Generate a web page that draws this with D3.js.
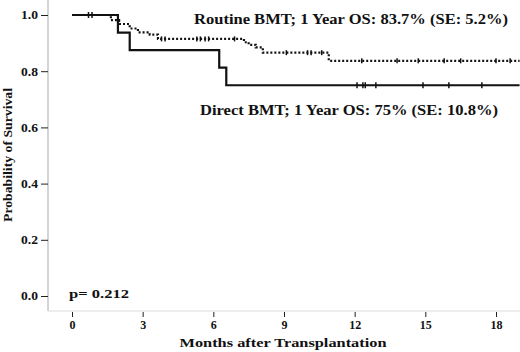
<!DOCTYPE html>
<html>
<head>
<meta charset="utf-8">
<script src="https://cdn.jsdelivr.net/npm/d3@7"></script>
<style>
  body { margin: 0; background: #fff; }
  text { font-family: "Liberation Serif", "Times New Roman", serif; font-weight: bold; fill: #111; }
</style>
</head>
<body>
<div id="km"></div>
<script>
// Chart data
const xTicks = [0, 3, 6, 9, 12, 15, 18];
const yTicks = [0, 0.2, 0.4, 0.6, 0.8, 1.0];

// Direct BMT (solid)
const directTimes = [0, 1.95, 2.45, 6.25, 6.55, 19];
const directSurv = [1, 0.9375, 0.875, 0.8125, 0.75, 0.75];
const directCensor = [0.7, 0.85, 12.1, 12.35, 12.45, 12.9, 14.9, 16.0, 17.4];

// Routine BMT (dotted)
const routineTimes = [0, 1.65, 2.0, 2.45, 2.8, 3.3, 3.65, 7.3, 7.5, 7.8, 8.1, 10.9, 19];
const routineSurv = [1, 0.982, 0.968, 0.952, 0.938, 0.93, 0.915, 0.903, 0.894, 0.885, 0.866, 0.837, 0.837];
const routineCensor = [3.8, 3.95, 5.3, 5.45, 5.65, 5.8, 6.9, 9.1, 10.0, 10.15, 10.6, 12.3, 13.8, 14.7, 15.8, 16.5, 18.0, 18.6];

const labels = {
    routine: "Routine BMT; 1 Year OS: 83.7% (SE: 5.2%)",
    direct: "Direct BMT; 1 Year OS: 75% (SE: 10.8%)",
    pval: "p= 0.212",
    xTitle: "Months after Transplantation",
    yTitle: "Probability of Survival"
};

const W = 520, H = 352;
const svg = d3.select("#km").append("svg")
    .attr("width", W)
    .attr("height", H);

// the source image is a bit wide-stretched, so text gets stretched too
function stretch(sel, k) {
    sel.each(function () {
        const w = this.getComputedTextLength();
        d3.select(this).attr("textLength", w * k).attr("lengthAdjust", "spacingAndGlyphs");
    });
}
function fitTo(sel, w) {
    sel.attr("textLength", w).attr("lengthAdjust", "spacingAndGlyphs");
}

const x = d3.scaleLinear().domain([0, 18]).range([72, 496]);
const y = d3.scaleLinear().domain([0, 1]).range([296, 15]);

// axis frame lines (light gray)
svg.append("line")
    .attr("x1", 48).attr("x2", 48).attr("y1", 0).attr("y2", 311)
    .attr("stroke", "#b8b8b8").attr("stroke-width", 1.2);
svg.append("line")
    .attr("x1", 48).attr("x2", W).attr("y1", 311).attr("y2", 311)
    .attr("stroke", "#dcdcdc").attr("stroke-width", 1);

// Y axis
const yAxis = svg.append("g")
    .attr("transform", "translate(48,0)")
    .call(d3.axisLeft(y).tickValues(yTicks).tickFormat(d3.format(".1f")).tickSize(7).tickPadding(3));
yAxis.select(".domain").remove();
yAxis.selectAll(".tick line").attr("stroke", "#222").attr("stroke-width", 1);
yAxis.selectAll(".tick text")
    .style("font-family", "'Liberation Serif', serif")
    .style("font-weight", "bold")
    .style("font-size", "12px")
    .attr("fill", "#111")
    .call(stretch, 1.13);

// X axis
const xAxis = svg.append("g")
    .attr("transform", "translate(0,312)")
    .call(d3.axisBottom(x).tickValues(xTicks).tickSize(5).tickPadding(3));
xAxis.select(".domain").remove();
xAxis.selectAll(".tick line").attr("stroke", "#222").attr("stroke-width", 1);
xAxis.selectAll(".tick text")
    .style("font-family", "'Liberation Serif', serif")
    .style("font-weight", "bold")
    .style("font-size", "12px")
    .attr("fill", "#111");

// axis titles
svg.append("text")
    .attr("x", 283)
    .attr("y", 347)
    .attr("text-anchor", "middle")
    .style("font-size", "13px")
    .text(labels.xTitle)
    .call(fitTo, 207);

svg.append("text")
    .attr("transform", "translate(12,155) rotate(-90)")
    .attr("text-anchor", "middle")
    .style("font-size", "12.5px")
    .text(labels.yTitle)
    .call(fitTo, 134);

// step line generator
const step = d3.line()
    .x(d => x(d[0]))
    .y(d => y(d[1]))
    .curve(d3.curveStepAfter);

const survAt = (times, surv, t) => surv[d3.bisectRight(times, t) - 1];

// Routine BMT - dotted
svg.append("path")
    .datum(routineTimes.map((t, i) => [t, routineSurv[i]]))
    .attr("d", step)
    .attr("fill", "none")
    .attr("stroke", "#111")
    .attr("stroke-width", 2.2)
    .attr("stroke-dasharray", "2,2");

svg.selectAll(".cens-r")
    .data(routineCensor)
    .enter().append("line")
    .attr("class", "cens-r")
    .attr("x1", d => x(d)).attr("x2", d => x(d))
    .attr("y1", d => y(survAt(routineTimes, routineSurv, d)) - 2.5)
    .attr("y2", d => y(survAt(routineTimes, routineSurv, d)) + 2.5)
    .attr("stroke", "#111").attr("stroke-width", 1.5);

// Direct BMT - solid
svg.append("path")
    .datum(directTimes.map((t, i) => [t, directSurv[i]]))
    .attr("d", step)
    .attr("fill", "none")
    .attr("stroke", "#111")
    .attr("stroke-width", 2.2);

svg.selectAll(".cens-d")
    .data(directCensor)
    .enter().append("line")
    .attr("class", "cens-d")
    .attr("x1", d => x(d)).attr("x2", d => x(d))
    .attr("y1", d => y(survAt(directTimes, directSurv, d)) - 3)
    .attr("y2", d => y(survAt(directTimes, directSurv, d)) + 3)
    .attr("stroke", "#111").attr("stroke-width", 1.5);

// annotations
svg.append("text")
    .attr("x", 194).attr("y", 24)
    .style("font-size", "14px")
    .text(labels.routine)
    .call(fitTo, 314);

svg.append("text")
    .attr("x", 200).attr("y", 115)
    .style("font-size", "14px")
    .text(labels.direct)
    .call(fitTo, 298);

svg.append("text")
    .attr("x", 69).attr("y", 298)
    .style("font-size", "13px")
    .text(labels.pval)
    .call(fitTo, 60);
</script>
</body>
</html>
